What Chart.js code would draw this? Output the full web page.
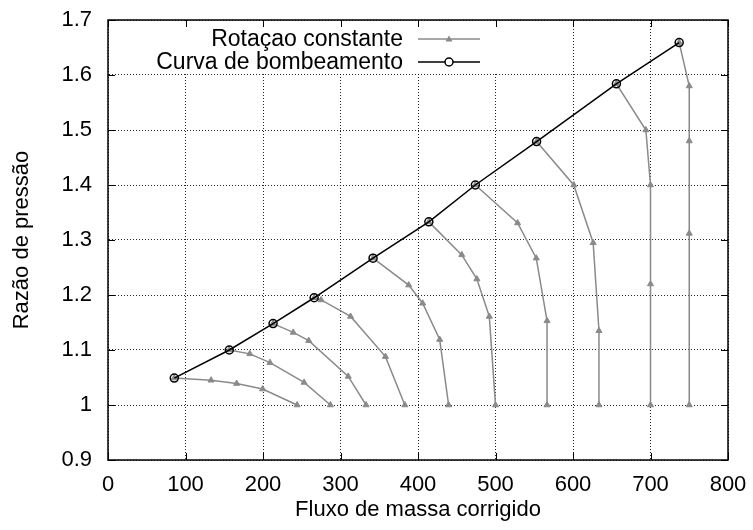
<!DOCTYPE html>
<html lang="pt">
<head>
<meta charset="UTF-8">
<title>Razão de pressão x Fluxo de massa corrigido</title>
<script src="https://cdn.jsdelivr.net/npm/chart.js"></script>
<style>
    body { margin: 0; background: #fff; }
    .box { width: 753px; height: 530px; }
</style>
</head>
<body>
<div class="box"><canvas id="mapa"></canvas></div>
<script>
// curva de bombeamento (surge line)
const surgeX = [85.5, 156.5, 213, 266, 342, 414, 474, 553, 656, 737];
const surgeY = [1.049, 1.100, 1.148, 1.195, 1.267, 1.333, 1.400, 1.479, 1.584, 1.659];

// linhas de rotação constante (each one starts on the surge line)
const rotX = [
    [133, 166, 199.5, 244],
    [183, 209, 253, 287],
    [239, 259, 310, 333],
    [275, 313, 358, 383],
    [388, 406, 428, 439.5],
    [456.5, 476, 492, 500],
    [528.5, 552.6, 566.5, 566.5],
    [601, 626, 633.5, 633.5],
    [694, 700, 700, 700],
    [750, 750, 750, 750]
];
const rotY = [
    [1.045, 1.039, 1.029, 1.0],
    [1.093, 1.077, 1.041, 1.0],
    [1.132, 1.117, 1.052, 1.0],
    [1.191, 1.161, 1.088, 1.0],
    [1.218, 1.185, 1.119, 1.0],
    [1.273, 1.229, 1.161, 1.0],
    [1.331, 1.267, 1.153, 1.0],
    [1.400, 1.295, 1.135, 1.0],
    [1.500, 1.400, 1.220, 1.0],
    [1.580, 1.480, 1.312, 1.0]
];

const legendLabels = ['Rotaçao constante', 'Curva de bombeamento'];
const xTitle = 'Fluxo de massa corrigido';
const yTitle = 'Razão de pressão';

const GRAY = '#8a8a8a';
const FONT = 'Liberation Sans, Arial, Helvetica, sans-serif';

const datasets = [{
    label: legendLabels[1],
    data: surgeX.map((x, i) => ({ x: x, y: surgeY[i] })),
    borderColor: '#000',
    borderWidth: 1.5,
    pointStyle: 'circle',
    pointRadius: 4,
    pointBorderWidth: 1.5,
    pointBorderColor: '#000',
    pointBackgroundColor: 'rgba(0,0,0,0)',
    showLine: true
}];
rotX.forEach((xs, k) => {
    const pts = [{ x: surgeX[k], y: surgeY[k] }];
    xs.forEach((x, i) => pts.push({ x: x, y: rotY[k][i] }));
    datasets.push({
        label: legendLabels[0],
        data: pts,
        borderColor: GRAY,
        borderWidth: 1.5,
        pointStyle: 'triangle',
        pointRadius: 3.5,
        pointBorderWidth: 1,
        pointBorderColor: GRAY,
        pointBackgroundColor: GRAY,
        showLine: true
    });
});

// gnuplot style: opaque key, closed frame, inward ticks
const gnuplotLook = {
    id: 'gnuplotLook',
    beforeDatasetsDraw(chart) {
        const { ctx, chartArea: a } = chart;
        ctx.save();
        ctx.fillStyle = '#fff';
        ctx.fillRect(a.left + 38, a.top + 1, 382, 53);
        ctx.restore();
    },
    afterDraw(chart) {
        const { ctx, chartArea: a, scales } = chart;
        ctx.save();
        ctx.strokeStyle = '#000';
        ctx.lineWidth = 1;
        const tl = 7;
        ctx.beginPath();
        scales.x.ticks.forEach(t => {
            const px = Math.round(scales.x.getPixelForValue(t.value)) + 0.5;
            ctx.moveTo(px, a.bottom); ctx.lineTo(px, a.bottom - tl);
            ctx.moveTo(px, a.top); ctx.lineTo(px, a.top + tl);
        });
        scales.y.ticks.forEach(t => {
            const py = Math.round(scales.y.getPixelForValue(t.value)) + 0.5;
            ctx.moveTo(a.left, py); ctx.lineTo(a.left + tl, py);
            ctx.moveTo(a.right, py); ctx.lineTo(a.right - tl, py);
        });
        ctx.stroke();
        ctx.lineWidth = 1.5;
        ctx.strokeRect(a.left, a.top, a.right - a.left, a.bottom - a.top);

        // key
        const textRight = a.left + 295;
        const x0 = a.left + 310, x1 = a.left + 372, xm = (x0 + x1) / 2;
        const rows = [a.top + 19, a.top + 42];
        ctx.font = '23px ' + FONT;
        ctx.fillStyle = '#000';
        ctx.textAlign = 'right';
        ctx.textBaseline = 'middle';
        legendLabels.forEach((lab, i) => ctx.fillText(lab, textRight, rows[i] + 1));

        ctx.lineWidth = 1.5;
        ctx.strokeStyle = GRAY;
        ctx.beginPath(); ctx.moveTo(x0, rows[0]); ctx.lineTo(x1, rows[0]); ctx.stroke();
        ctx.fillStyle = GRAY;
        ctx.beginPath();
        ctx.moveTo(xm, rows[0] - 3.5); ctx.lineTo(xm + 3.5, rows[0] + 2.5); ctx.lineTo(xm - 3.5, rows[0] + 2.5);
        ctx.closePath(); ctx.fill();

        ctx.strokeStyle = '#000';
        ctx.beginPath(); ctx.moveTo(x0, rows[1]); ctx.lineTo(xm - 4, rows[1]);
        ctx.moveTo(xm + 4, rows[1]); ctx.lineTo(x1, rows[1]); ctx.stroke();
        ctx.beginPath(); ctx.arc(xm, rows[1], 4, 0, Math.PI * 2); ctx.stroke();
        ctx.restore();
    }
};

const gridStyle = {
    color: 'rgba(0,0,0,0.85)',
    lineWidth: 1,
    borderDash: [1, 2],
    drawTicks: false
};
const noBorder = { display: true, color: 'rgba(0,0,0,0)', dash: [1, 2] };

new Chart(document.getElementById('mapa'), {
    type: 'scatter',
    data: { datasets: datasets },
    plugins: [gnuplotLook],
    options: {
        responsive: true,
        maintainAspectRatio: false,
        animation: false,
        events: [],
        layout: { padding: { top: 20, right: 25, left: 0, bottom: 0 } },
        plugins: {
            legend: { display: false },
            tooltip: { enabled: false }
        },
        scales: {
            x: {
                type: 'linear',
                min: 0, max: 800,
                ticks: { stepSize: 100, padding: 12, color: '#000', font: { family: FONT, size: 22 } },
                grid: gridStyle,
                border: noBorder,
                title: { display: true, text: xTitle, color: '#000', font: { family: FONT, size: 22 }, padding: { top: 0, bottom: 7 } },
                afterFit: s => { s.height = 70; s.paddingLeft = 0; s.paddingRight = 0; }
            },
            y: {
                type: 'linear',
                min: 0.9, max: 1.7,
                ticks: {
                    stepSize: 0.1, padding: 16, color: '#000', font: { family: FONT, size: 22 },
                    callback: v => String(parseFloat(Number(v).toFixed(1)))
                },
                grid: gridStyle,
                border: noBorder,
                title: { display: true, text: yTitle, color: '#000', font: { family: FONT, size: 22 }, padding: { top: 9, bottom: 0 } },
                afterFit: s => { s.width = 108; s.paddingTop = 0; s.paddingBottom = 0; }
            }
        }
    }
});
</script>
</body>
</html>
